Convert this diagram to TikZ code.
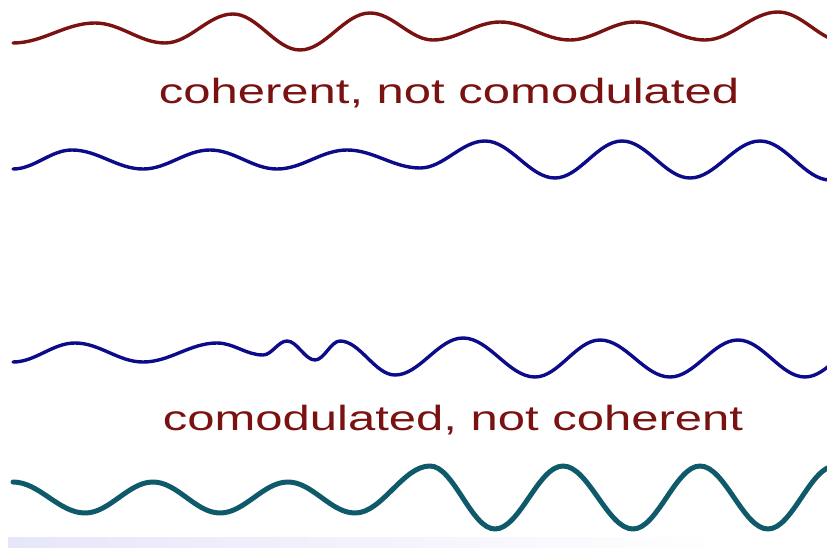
\documentclass[tikz,border=0pt]{standalone}
\usepackage{fontspec}
\setmainfont{Liberation Sans}
\usepackage{graphicx}
\definecolor{wavered}{RGB}{122,18,18}
\definecolor{waveblue}{RGB}{12,12,138}
\definecolor{waveteal}{RGB}{14,90,106}
\definecolor{bandlav}{RGB}{230,230,250}
\newcommand{\widetext}[1]{\scalebox{1.4}[1]{#1}}

\begin{document}
\begin{tikzpicture}[x=1pt,y=-1pt,
    wave/.style={line width=3.4pt, line join=round, line cap=round},
    label/.style={anchor=base, text=wavered, font=\fontsize{35}{40}\selectfont, inner sep=0pt}]
        \useasboundingbox (0,0) rectangle (827,548);
        \clip (0,0) rectangle (827,548);

        % faint band along the bottom
        \shade [left color=bandlav, right color=white] (8,537) rectangle (720,548);

        % top pair: coherent, not comodulated
        \draw [wave, wavered] (13,43) \foreach \x/\y [remember=\x as \px (initially 13), remember=\y as \py (initially 43)]
            in {95/23, 165/43, 233/14, 300/50, 370/13, 433/40, 500/22, 570/40, 635/22, 705/40, 778/12, 845/42}
            { cos ({(\px+\x)/2},{(\py+\y)/2}) sin (\x,\y) };
        \node [label] (coh) at (449,104) {\widetext{coherent, not comodulated}};
        \draw [wave, waveblue] (13,169) \foreach \x/\y [remember=\x as \px (initially 13), remember=\y as \py (initially 169)]
            in {72/150, 143/169, 210/150, 277/169, 347/150, 420/168, 485/141, 555/178, 622/141, 690/178, 760/141, 830/180}
            { cos ({(\px+\x)/2},{(\py+\y)/2}) sin (\x,\y) };

        % bottom pair: comodulated, not coherent
        \draw [wave, waveblue] (13,362) \foreach \x/\y [remember=\x as \px (initially 13), remember=\y as \py (initially 362)]
            in {75/343, 143/362, 217/343, 263/355, 287/341, 315/360, 340/341, 395/375, 463/338, 535/377, 600/340, 670/377, 738/340, 805/377, 870/340}
            { cos ({(\px+\x)/2},{(\py+\y)/2}) sin (\x,\y) };
        \node [label] (com) at (453,430) {\widetext{comodulated, not coherent}};
        \draw [wave, waveteal, line width=5pt] (13,482) \foreach \x/\y [remember=\x as \px (initially 13), remember=\y as \py (initially 482)]
            in {85/513, 153/482, 220/513, 288/482, 355/513, 430/466, 495/529, 563/466, 633/529, 700/466, 768/529, 835/466}
            { cos ({(\px+\x)/2},{(\py+\y)/2}) sin (\x,\y) };
    \end{tikzpicture}
\end{document}
